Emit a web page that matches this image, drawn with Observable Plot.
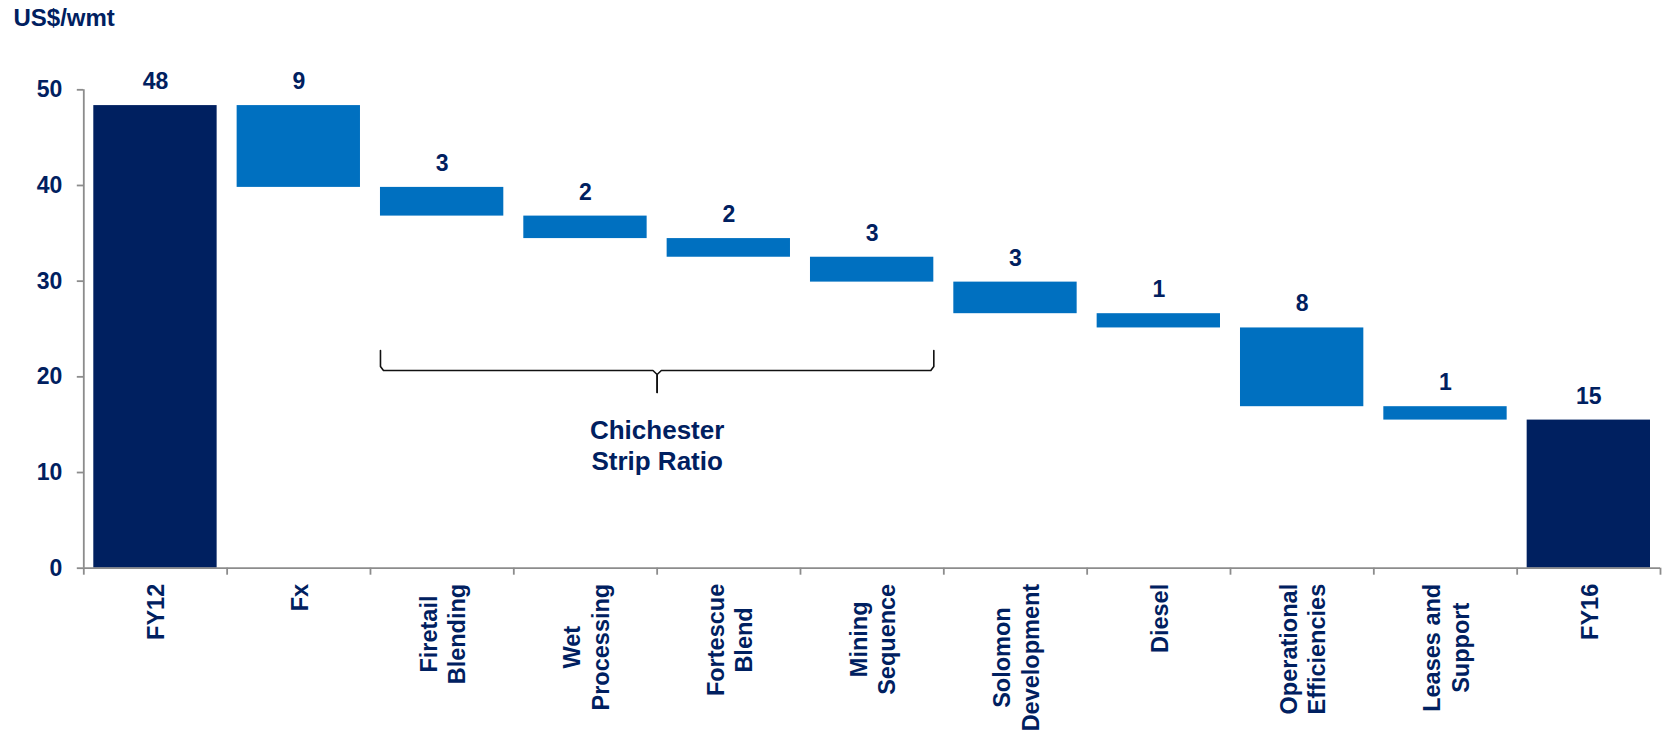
<!DOCTYPE html>
<html>
<head>
<meta charset="utf-8">
<script src="https://cdn.jsdelivr.net/npm/d3@7"></script>
<script src="https://cdn.jsdelivr.net/npm/@observablehq/plot@0.6"></script>
<style>
  html, body { margin: 0; padding: 0; background: #ffffff; }
  body { font-family: "Liberation Sans", Arial, sans-serif; }
  #title {
    height: 40px; box-sizing: border-box;
    padding: 5.7px 0 0 13.5px;
    font-size: 24px; line-height: 24px; font-weight: bold; color: #002060;
  }
</style>
</head>
<body>
<div id="title">US$/wmt</div>
<div id="chart"></div>
<script>
// Cost bridge FY12 -> FY16, US$ per wet metric tonne
const categories = [
  "FY12", "Fx", "Firetail\nBlending", "Wet\nProcessing", "Fortescue\nBlend",
  "Mining\nSequence", "Solomon\nDevelopment", "Diesel", "Operational\nEfficiencies",
  "Leases and\nSupport", "FY16"
];
const startValue = 48.35;                                   // FY12 cost
const reductions = [8.55, 3.0, 2.35, 1.95, 2.6, 3.3, 1.49, 8.23, 1.4];  // step-downs
const yTicks = [0, 10, 20, 30, 40, 50];
const bracketFrom = "Firetail\nBlending";
const bracketTo = "Mining\nSequence";
const bracketLabel = "Chichester\nStrip Ratio";

const NAVY = "#002060";
const BLUE = "#0070C0";
const AXIS = "#8c8c8c";
const FONT = "Liberation Sans, Arial, sans-serif";

// Waterfall rows: totals stand on zero, reductions float between running levels
const rows = [];
let level = startValue;
rows.push({i: 0, name: categories[0], lo: 0, hi: level, total: true, label: Math.round(level)});
reductions.forEach((r, k) => {
  rows.push({i: k + 1, name: categories[k + 1], lo: level - r, hi: level, total: false, label: Math.round(r)});
  level -= r;
});
rows.push({i: categories.length - 1, name: categories[categories.length - 1], lo: 0, hi: level, total: true, label: Math.round(level)});

const W = 1665, H = 693;
const mTop = 49.3, mBottom = 165.3, mLeft = 83.3, mRight = 5;
const n = categories.length;
const yScale = Plot.scale({y: {domain: [0, 50], range: [H - mBottom, mTop]}});
const step = (W - mLeft - mRight) / n;
const barInset = 10;

// Rotated category labels: lines centred on each other, block hanging below the axis
const ctx = document.createElement("canvas").getContext("2d");
ctx.font = `bold 23.5px ${FONT}`;
const labelRows = categories.map((c, i) => {
  const len = d3.max(c.split("\n"), s => ctx.measureText(s).width);
  return {i, name: c, y: yScale.invert(yScale.apply(0) + 15.6 + len / 2)};
});

// Curly bracket under the Chichester steps
const b0 = categories.indexOf(bracketFrom) + barInset / step;
const b1 = categories.indexOf(bracketTo) + 1 - barInset / step;
const bm = (b0 + b1) / 2;
const bTop = 22.75, bLine = 20.66, bTip = 18.36;
const cx = 3 / step, cy = 4 / 9.568;
const bracket = [
  {s: "l", x: b0, y: bTop}, {s: "l", x: b0, y: bLine + cy}, {s: "l", x: b0 + cx, y: bLine},
  {s: "l", x: bm - 1.4 * cx, y: bLine}, {s: "l", x: bm, y: bLine - cy}, {s: "l", x: bm, y: bTip},
  {s: "r", x: b1, y: bTop}, {s: "r", x: b1, y: bLine + cy}, {s: "r", x: b1 - cx, y: bLine},
  {s: "r", x: bm + 1.4 * cx, y: bLine}, {s: "r", x: bm, y: bLine - cy}, {s: "r", x: bm, y: bTip}
];

const chart = Plot.plot({
  width: W, height: H,
  marginTop: mTop, marginBottom: mBottom, marginLeft: mLeft, marginRight: mRight,
  x: {type: "linear", domain: [0, n], axis: null},
  y: {type: "linear", domain: [0, 50], axis: null},
  style: {fontFamily: FONT, background: "#ffffff", overflow: "visible"},
  marks: [
    Plot.rect(rows, {
      x1: "i", x2: d => d.i + 1, y1: "lo", y2: "hi",
      fill: d => d.total ? NAVY : BLUE,
      insetLeft: barInset, insetRight: barInset
    }),
    // value labels
    Plot.text(rows, {
      x: d => d.i + 0.5, y: "hi", text: d => String(d.label),
      dy: -16.5, lineAnchor: "bottom", textAnchor: "middle",
      fontSize: 23, fontWeight: "bold", fill: NAVY
    }),
    // y axis
    Plot.ruleX([0], {y1: 0, y2: 50, stroke: AXIS, strokeWidth: 1.8}),
    Plot.ruleY(yTicks, {y: d => d, x1: 0, x2: 0, insetLeft: -6.5, stroke: AXIS, strokeWidth: 1.8}),
    Plot.text(yTicks, {
      x: 0, y: d => d, text: d => String(d), dx: -21.5,
      textAnchor: "end", lineAnchor: "middle",
      fontSize: 23, fontWeight: "bold", fill: NAVY
    }),
    // x axis
    Plot.ruleY([0], {x1: 0, x2: n, stroke: AXIS, strokeWidth: 1.8}),
    Plot.ruleX(d3.range(n + 1), {x: d => d, y1: 0, y2: 0, insetBottom: -7, stroke: AXIS, strokeWidth: 1.8}),
    Plot.text(labelRows, {
      x: d => d.i + 0.5, y: "y", text: "name",
      rotate: -90, textAnchor: "middle", lineAnchor: "middle", lineHeight: 1.2,
      fontSize: 23.5, fontWeight: "bold", fill: NAVY
    }),
    // bracket annotation
    Plot.line(bracket, {x: "x", y: "y", z: "s", stroke: "#111111", strokeWidth: 1.6, curve: "linear"}),
    Plot.text([bracketLabel], {
      x: bm, y: 15.78, text: d => d,
      textAnchor: "middle", lineAnchor: "top", lineHeight: 1.18,
      fontSize: 26, fontWeight: "bold", fill: NAVY
    })
  ]
});
document.getElementById("chart").appendChild(chart);
</script>
</body>
</html>
